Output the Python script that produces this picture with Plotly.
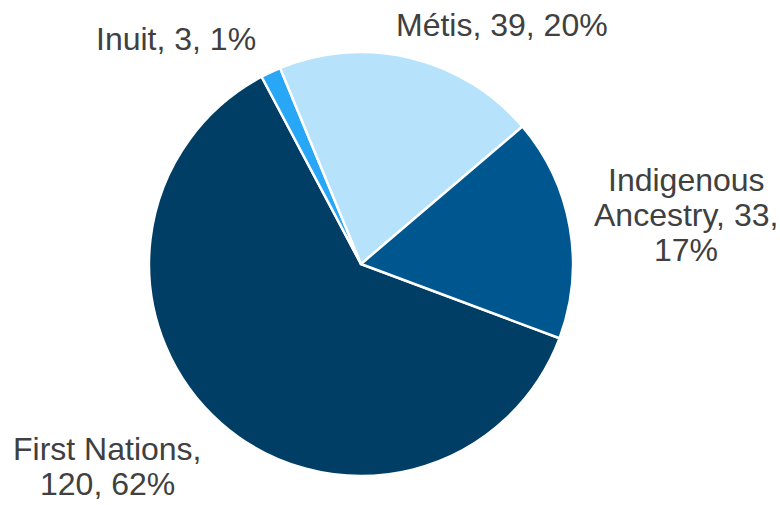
import plotly.graph_objects as go

# Population by identity group
groups = ["First Nations", "Inuit", "Métis", "Indigenous Ancestry"]
counts = [120, 3, 39, 33]
pct_labels = ["62%", "1%", "20%", "17%"]
colors = ["#003E66", "#27A7F5", "#B6E2FC", "#00578F"]

W, H = 780, 505
cx, cy, r = 361, 264, 212

fig = go.Figure(
    go.Pie(
        labels=groups,
        values=counts,
        sort=False,
        direction="clockwise",
        rotation=110.5,
        textinfo="none",
        hoverinfo="label+value+percent",
        marker=dict(colors=colors, line=dict(color="white", width=2.5)),
        domain=dict(
            x=[(cx - r) / W, (cx + r) / W],
            y=[1 - (cy + r) / H, 1 - (cy - r) / H],
        ),
    )
)

# Data labels, one annotation per text line so the line spacing stays tight
label_lines = {
    "First Nations": [f"{groups[0]},", f"{counts[0]}, {pct_labels[0]}"],
    "Inuit": [f"{groups[1]}, {counts[1]}, {pct_labels[1]}"],
    "Métis": [f"{groups[2]}, {counts[2]}, {pct_labels[2]}"],
    "Indigenous Ancestry": [
        groups[3].split(" ")[0],
        f"{groups[3].split(' ')[1]}, {counts[3]},",
        pct_labels[3],
    ],
}
# x centre and y of the bottom of the first line's box, in pixels from top-left
label_anchor = {
    "First Nations": (107, 469),
    "Inuit": (176, 59),
    "Métis": (502, 45),
    "Indigenous Ancestry": (686, 200),
}
line_step = 35

annotations = []
for g in groups:
    x0, y0 = label_anchor[g]
    for i, line in enumerate(label_lines[g]):
        annotations.append(
            dict(
                text=line,
                x=x0 / W,
                y=max(0.0, 1 - (y0 + i * line_step) / H),
                xref="paper",
                yref="paper",
                xanchor="center",
                yanchor="bottom",
                showarrow=False,
                font=dict(family="Liberation Sans, Arial", size=32, color="#404040"),
            )
        )

fig.update_layout(
    width=W,
    height=H,
    margin=dict(l=0, r=0, t=0, b=0),
    paper_bgcolor="white",
    plot_bgcolor="white",
    showlegend=False,
    annotations=annotations,
)

fig.write_html("out.html")
